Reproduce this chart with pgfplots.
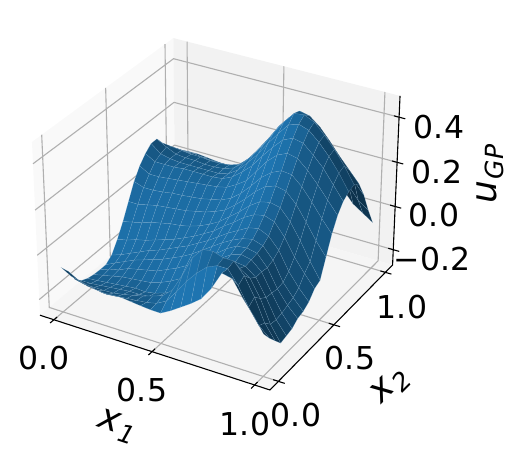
\documentclass[border=0pt]{standalone}
\usepackage{fontspec}
\setmainfont{DejaVu Sans}
\usepackage{pgfplots}
\usepackage{pgfplotstable}
\pgfplotsset{compat=1.18}

% surface: x1 x2 u, far rows first so that nearer patches cover farther ones
\pgfplotstableread[row sep=\\]{
a b u\\
0 1 .027\\ .05 1 .03\\ .1 1 .03\\ .15 1 .025\\ .2 1 .02\\ .25 1 .012\\ .3 1 .018\\ .35 1 .035\\ .4 1 .08\\ .45 1 .15\\ .5 1 .22\\ .55 1 .285\\ .6 1 .33\\ .65 1 .33\\ .7 1 .285\\ .75 1 .22\\ .8 1 .15\\ .85 1 .05\\ .9 1 0\\ .95 1 -.03\\ 1 1 -.06\\
0 .95 .05\\ .05 .95 .055\\ .1 .95 .055\\ .15 .95 .05\\ .2 .95 .045\\ .25 .95 .04\\ .3 .95 .04\\ .35 .95 .055\\ .4 .95 .095\\ .45 .95 .155\\ .5 .95 .22\\ .55 .95 .28\\ .6 .95 .335\\ .65 .95 .365\\ .7 .95 .35\\ .75 .95 .3\\ .8 .95 .235\\ .85 .95 .17\\ .9 .95 .105\\ .95 .95 .05\\ 1 .95 .02\\
0 .9 .08\\ .05 .9 .085\\ .1 .9 .08\\ .15 .9 .075\\ .2 .9 .075\\ .25 .9 .075\\ .3 .9 .075\\ .35 .9 .08\\ .4 .9 .11\\ .45 .9 .16\\ .5 .9 .22\\ .55 .9 .28\\ .6 .9 .34\\ .65 .9 .38\\ .7 .9 .395\\ .75 .9 .37\\ .8 .9 .32\\ .85 .9 .27\\ .9 .9 .21\\ .95 .9 .16\\ 1 .9 .11\\
0 .85 .12\\ .05 .85 .115\\ .1 .85 .11\\ .15 .85 .105\\ .2 .85 .105\\ .25 .85 .1\\ .3 .85 .1\\ .35 .85 .105\\ .4 .85 .12\\ .45 .85 .16\\ .5 .85 .215\\ .55 .85 .275\\ .6 .85 .34\\ .65 .85 .39\\ .7 .85 .43\\ .75 .85 .42\\ .8 .85 .385\\ .85 .85 .335\\ .9 .85 .28\\ .95 .85 .23\\ 1 .85 .18\\
0 .8 .16\\ .05 .8 .135\\ .1 .8 .115\\ .15 .8 .11\\ .2 .8 .11\\ .25 .8 .105\\ .3 .8 .105\\ .35 .8 .11\\ .4 .8 .125\\ .45 .8 .16\\ .5 .8 .21\\ .55 .8 .265\\ .6 .8 .33\\ .65 .8 .39\\ .7 .8 .44\\ .75 .8 .445\\ .8 .8 .425\\ .85 .8 .38\\ .9 .8 .33\\ .95 .8 .27\\ 1 .8 .2\\
0 .75 .16\\ .05 .75 .125\\ .1 .75 .115\\ .15 .75 .11\\ .2 .75 .11\\ .25 .75 .11\\ .3 .75 .11\\ .35 .75 .11\\ .4 .75 .12\\ .45 .75 .15\\ .5 .75 .195\\ .55 .75 .245\\ .6 .75 .305\\ .65 .75 .36\\ .7 .75 .41\\ .75 .75 .425\\ .8 .75 .41\\ .85 .75 .37\\ .9 .75 .32\\ .95 .75 .26\\ 1 .75 .19\\
0 .7 .135\\ .05 .7 .11\\ .1 .7 .11\\ .15 .7 .11\\ .2 .7 .115\\ .25 .7 .115\\ .3 .7 .115\\ .35 .7 .115\\ .4 .7 .12\\ .45 .7 .14\\ .5 .7 .175\\ .55 .7 .215\\ .6 .7 .27\\ .65 .7 .32\\ .7 .7 .365\\ .75 .7 .385\\ .8 .7 .375\\ .85 .7 .335\\ .9 .7 .29\\ .95 .7 .23\\ 1 .7 .17\\
0 .65 .1\\ .05 .65 .075\\ .1 .65 .075\\ .15 .65 .08\\ .2 .65 .085\\ .25 .65 .09\\ .3 .65 .095\\ .35 .65 .1\\ .4 .65 .105\\ .45 .65 .115\\ .5 .65 .14\\ .55 .65 .17\\ .6 .65 .225\\ .65 .65 .28\\ .7 .65 .32\\ .75 .65 .34\\ .8 .65 .33\\ .85 .65 .29\\ .9 .65 .24\\ .95 .65 .185\\ 1 .65 .13\\
0 .6 .05\\ .05 .6 .035\\ .1 .6 .035\\ .15 .6 .04\\ .2 .6 .047\\ .25 .6 .05\\ .3 .6 .055\\ .35 .6 .06\\ .4 .6 .07\\ .45 .6 .08\\ .5 .6 .1\\ .55 .6 .135\\ .6 .6 .18\\ .65 .6 .23\\ .7 .6 .265\\ .75 .6 .285\\ .8 .6 .28\\ .85 .6 .24\\ .9 .6 .185\\ .95 .6 .125\\ 1 .6 .07\\
0 .55 -.02\\ .05 .55 -.02\\ .1 .55 -.01\\ .15 .55 0\\ .2 .55 .005\\ .25 .55 .01\\ .3 .55 .015\\ .35 .55 .025\\ .4 .55 .035\\ .45 .55 .05\\ .5 .55 .07\\ .55 .55 .105\\ .6 .55 .145\\ .65 .55 .19\\ .7 .55 .225\\ .75 .55 .24\\ .8 .55 .23\\ .85 .55 .185\\ .9 .55 .12\\ .95 .55 .05\\ 1 .55 -.01\\
0 .5 -.09\\ .05 .5 -.08\\ .1 .5 -.07\\ .15 .5 -.055\\ .2 .5 -.045\\ .25 .5 -.035\\ .3 .5 -.03\\ .35 .5 -.02\\ .4 .5 -.005\\ .45 .5 .015\\ .5 .5 .04\\ .55 .5 .075\\ .6 .5 .11\\ .65 .5 .15\\ .7 .5 .18\\ .75 .5 .19\\ .8 .5 .18\\ .85 .5 .13\\ .9 .5 .06\\ .95 .5 -.02\\ 1 .5 -.09\\
0 .45 -.15\\ .05 .45 -.14\\ .1 .45 -.125\\ .15 .45 -.115\\ .2 .45 -.1\\ .25 .45 -.085\\ .3 .45 -.07\\ .35 .45 -.05\\ .4 .45 -.03\\ .45 .45 -.005\\ .5 .45 .02\\ .55 .45 .055\\ .6 .45 .085\\ .65 .45 .12\\ .7 .45 .145\\ .75 .45 .155\\ .8 .45 .14\\ .85 .45 .085\\ .9 .45 .01\\ .95 .45 -.05\\ 1 .45 -.104\\
0 .4 -.2\\ .05 .4 -.185\\ .1 .4 -.165\\ .15 .4 -.145\\ .2 .4 -.125\\ .25 .4 -.11\\ .3 .4 -.09\\ .35 .4 -.07\\ .4 .4 -.05\\ .45 .4 -.025\\ .5 .4 0\\ .55 .4 .03\\ .6 .4 .06\\ .65 .4 .085\\ .7 .4 .11\\ .75 .4 .12\\ .8 .4 .1\\ .85 .4 .05\\ .9 .4 -.03\\ .95 .4 -.09\\ 1 .4 -.139\\
0 .35 -.222\\ .05 .35 -.2\\ .1 .35 -.18\\ .15 .35 -.16\\ .2 .35 -.145\\ .25 .35 -.13\\ .3 .35 -.115\\ .35 .35 -.095\\ .4 .35 -.075\\ .45 .35 -.05\\ .5 .35 -.02\\ .55 .35 .01\\ .6 .35 .04\\ .65 .35 .065\\ .7 .35 .085\\ .75 .35 .095\\ .8 .35 .08\\ .85 .35 .03\\ .9 .35 -.055\\ .95 .35 -.11\\ 1 .35 -.157\\
0 .3 -.222\\ .05 .3 -.205\\ .1 .3 -.195\\ .15 .3 -.175\\ .2 .3 -.165\\ .25 .3 -.155\\ .3 .3 -.145\\ .35 .3 -.125\\ .4 .3 -.105\\ .45 .3 -.08\\ .5 .3 -.05\\ .55 .3 -.02\\ .6 .3 .015\\ .65 .3 .05\\ .7 .3 .075\\ .75 .3 .08\\ .8 .3 .07\\ .85 .3 .02\\ .9 .3 -.06\\ .95 .3 -.12\\ 1 .3 -.165\\
0 .25 -.22\\ .05 .25 -.21\\ .1 .25 -.2\\ .15 .25 -.19\\ .2 .25 -.185\\ .25 .25 -.18\\ .3 .25 -.175\\ .35 .25 -.16\\ .4 .25 -.14\\ .45 .25 -.115\\ .5 .25 -.09\\ .55 .25 -.05\\ .6 .25 -.01\\ .65 .25 .03\\ .7 .25 .06\\ .75 .25 .075\\ .8 .25 .065\\ .85 .25 .025\\ .9 .25 -.055\\ .95 .25 -.13\\ 1 .25 -.186\\
0 .2 -.214\\ .05 .2 -.21\\ .1 .2 -.205\\ .15 .2 -.2\\ .2 .2 -.195\\ .25 .2 -.19\\ .3 .2 -.193\\ .35 .2 -.185\\ .4 .2 -.17\\ .45 .2 -.15\\ .5 .2 -.133\\ .55 .2 -.085\\ .6 .2 -.04\\ .65 .2 .01\\ .7 .2 .05\\ .75 .2 .065\\ .8 .2 .06\\ .85 .2 .025\\ .9 .2 -.05\\ .95 .2 -.135\\ 1 .2 -.193\\
0 .15 -.2\\ .05 .15 -.2\\ .1 .15 -.195\\ .15 .15 -.19\\ .2 .15 -.185\\ .25 .15 -.18\\ .3 .15 -.18\\ .35 .15 -.175\\ .4 .15 -.16\\ .45 .15 -.14\\ .5 .15 -.11\\ .55 .15 -.05\\ .6 .15 .01\\ .65 .15 .06\\ .7 .15 .08\\ .75 .15 .08\\ .8 .15 .075\\ .85 .15 .045\\ .9 .15 -.03\\ .95 .15 -.13\\ 1 .15 -.2\\
0 .1 -.17\\ .05 .1 -.18\\ .1 .1 -.18\\ .15 .1 -.18\\ .2 .1 -.178\\ .25 .1 -.17\\ .3 .1 -.16\\ .35 .1 -.15\\ .4 .1 -.135\\ .45 .1 -.12\\ .5 .1 -.08\\ .55 .1 0\\ .6 .1 .09\\ .65 .1 .14\\ .7 .1 .145\\ .75 .1 .13\\ .8 .1 .13\\ .85 .1 .08\\ .9 .1 0\\ .95 .1 -.1\\ 1 .1 -.164\\
0 .05 -.11\\ .05 .05 -.135\\ .1 .05 -.15\\ .15 .05 -.155\\ .2 .05 -.16\\ .25 .05 -.155\\ .3 .05 -.15\\ .35 .05 -.145\\ .4 .05 -.14\\ .45 .05 -.13\\ .5 .05 -.105\\ .55 .05 -.05\\ .6 .05 .01\\ .65 .05 .06\\ .7 .05 .1\\ .75 .05 .12\\ .8 .05 .12\\ .85 .05 .06\\ .9 .05 -.02\\ .95 .05 -.086\\ 1 .05 -.127\\
0 0 -.07\\ .05 0 -.095\\ .1 0 -.105\\ .15 0 -.115\\ .2 0 -.125\\ .25 0 -.122\\ .3 0 -.12\\ .35 0 -.125\\ .4 0 -.13\\ .45 0 -.134\\ .5 0 -.135\\ .55 0 -.11\\ .6 0 -.08\\ .65 0 -.05\\ .7 0 -.015\\ .75 0 .045\\ .8 0 .125\\ .85 0 .115\\ .9 0 .045\\ .95 0 -.015\\ 1 0 -.084\\
}\surfdata

% keep u by row number for the neighbour lookups below
\pgfplotstableforeachcolumnelement{u}\of\surfdata\as\cell{%
  \expandafter\xdef\csname U\pgfplotstablerow\endcsname{\cell}%
}

% facet brightness as matplotlib gets it: normal against the light at (-1,-1,.5)
\pgfplotstablecreatecol[create col/assign/.code={%
  \pgfmathtruncatemacro\ri{\pgfplotstablerow}%
  \pgfmathtruncatemacro\rr{(\ri+0.5)/21}%
  \pgfmathtruncatemacro\cc{\ri-21*\rr}%
  \pgfmathtruncatemacro\nL{\rr*21+max(\cc-1,0)}%
  \pgfmathtruncatemacro\nR{\rr*21+min(\cc+1,20)}%
  \pgfmathtruncatemacro\nU{max(\rr-1,0)*21+\cc}%
  \pgfmathtruncatemacro\nD{min(\rr+1,20)*21+\cc}%
  \edef\uL{\csname U\nL\endcsname}\edef\uR{\csname U\nR\endcsname}%
  \edef\uU{\csname U\nU\endcsname}\edef\uD{\csname U\nD\endcsname}%
  \pgfmathsetmacro\dx{(\uR-\uL)/(.05*(\nR-\nL))}%
  \pgfmathsetmacro\dy{(\uU-\uD)*21/(.05*(\nD-\nU))}%
  \pgfmathsetmacro\shadeval{.3+.35*(1+(.6667*(\dx+\dy)+.3333)/sqrt(\dx*\dx+\dy*\dy+1))}%
  \pgfkeyslet{/pgfplots/table/create col/next content}\shadeval
}]{shade}\surfdata

\pgfplotsset{
  table/proj/.style={
    x expr={prx(\thisrow{a},\thisrow{b},\thisrow{u})},
    y expr={pry(\thisrow{a},\thisrow{b},\thisrow{u})},
    row sep=\\,
  },
  gl/.style={color=black!31, line width=1.1pt, line join=round},
  ax/.style={color=black, line width=1.1pt},
  tk/.style={color=black, line width=1.1pt},
}
\newcommand\lbl[1]{\fontsize{31.5}{31.5}\selectfont #1}
\newcommand\mlab[2]{\fontsize{36}{36}\selectfont\itshape #1\kern.04em\raisebox{-.2em}{\fontsize{25}{25}\selectfont #2}}
\definecolor{seam}{RGB}{150,190,220}

\begin{document}
\begin{tikzpicture}[declare function={
  dep(\a,\b,\c)=10-(.4319*(\a-.5)-.7481*(\b-.5)+.5602*(\c-.1105));
  prx(\a,\b,\c)=219.4+2306*(.8639*(\a-.5)+.4988*(\b-.5))/dep(\a,\b,\c);
  pry(\a,\b,\c)=252.1+2306*(-.2494*(\a-.5)+.4319*(\b-.5)+.9702*(\c-.1105))/dep(\a,\b,\c);
}]
\begin{axis}[
  width=517pt, height=458pt, scale only axis,
  xmin=0, xmax=517, ymin=0, ymax=458,
  hide axis, clip=false,
  colormap={shade}{rgb255=(0,0,0) rgb255=(31,119,180)},
  point meta min=0, point meta max=1,
]
% panes
\addplot[fill=black!2.5, draw=none] table[proj] {a b u\\ -.0729 -.0729 -.272\\ -.0729 1.0729 -.272\\ -.0729 1.0729 .493\\ -.0729 -.0729 .493\\};
\addplot[fill=black!5, draw=none] table[proj] {a b u\\ -.0729 1.0729 -.272\\ 1.0729 1.0729 -.272\\ 1.0729 1.0729 .493\\ -.0729 1.0729 .493\\};
\addplot[fill=black!3.75, draw=none] table[proj] {a b u\\ -.0729 -.0729 -.272\\ 1.0729 -.0729 -.272\\ 1.0729 1.0729 -.272\\ -.0729 1.0729 -.272\\};
% grid on the panes
\pgfplotsinvokeforeach{0,.5,1}{
  \addplot[gl] table[proj] {a b u\\ #1 -.0729 -.272\\ #1 1.0729 -.272\\ #1 1.0729 .493\\};
  \addplot[gl] table[proj] {a b u\\ 1.0729 #1 -.272\\ -.0729 #1 -.272\\ -.0729 #1 .493\\};
}
\pgfplotsinvokeforeach{-.2,0,.2,.4}{
  \addplot[gl] table[proj] {a b u\\ -.0729 -.0729 #1\\ -.0729 1.0729 #1\\ 1.0729 1.0729 #1\\};
}
% axis lines and ticks
\addplot[ax] table[proj] {a b u\\ -.0729 -.0729 -.272\\ 1.0729 -.0729 -.272\\ 1.0729 1.0729 -.272\\ 1.0729 1.0729 .493\\};
\pgfplotsinvokeforeach{0,.5,1}{
  \addplot[tk] table[proj] {a b u\\ #1 -.0479 -.272\\ #1 -.1029 -.272\\};
  \addplot[tk] table[proj] {a b u\\ 1.0479 #1 -.272\\ 1.1029 #1 -.272\\};
}
\pgfplotsinvokeforeach{-.2,0,.2,.4}{
  \addplot[tk] table[proj] {a b u\\ 1.0479 1.0729 #1\\ 1.1029 1.0729 #1\\};
}
% surface
\addplot[surf, shader=faceted, faceted color=seam, line width=.25pt,
  draw opacity=.45, mesh/rows=21, mesh/ordering=x varies, mesh/check=false, point meta=explicit]
  table[proj, meta=shade] {\surfdata};
% tick labels and axis labels
\node at (axis cs:44,100) {\lbl{0.0}};
\node at (axis cs:142,68) {\lbl{0.5}};
\node at (axis cs:245,34) {\lbl{1.0}};
\node at (axis cs:296,43) {\lbl{0.0}};
\node at (axis cs:350,100) {\lbl{0.5}};
\node at (axis cs:402,151) {\lbl{1.0}};
\node at (axis cs:439,331) {\lbl{0.4}};
\node at (axis cs:437,286) {\lbl{0.2}};
\node at (axis cs:434,243) {\lbl{0.0}};
\node at (axis cs:432,199) {\lbl{−0.2}};
\node[rotate=-18] at (axis cs:117,31) {\mlab{x}{1}};
\node[rotate=45] at (axis cs:391,72) {\mlab{x}{2}};
\node[rotate=90] at (axis cs:490,284) {\mlab{u}{GP}};
\end{axis}
\pgfresetboundingbox
\path (0,0) rectangle (517pt,458pt);
\end{tikzpicture}
\end{document}
